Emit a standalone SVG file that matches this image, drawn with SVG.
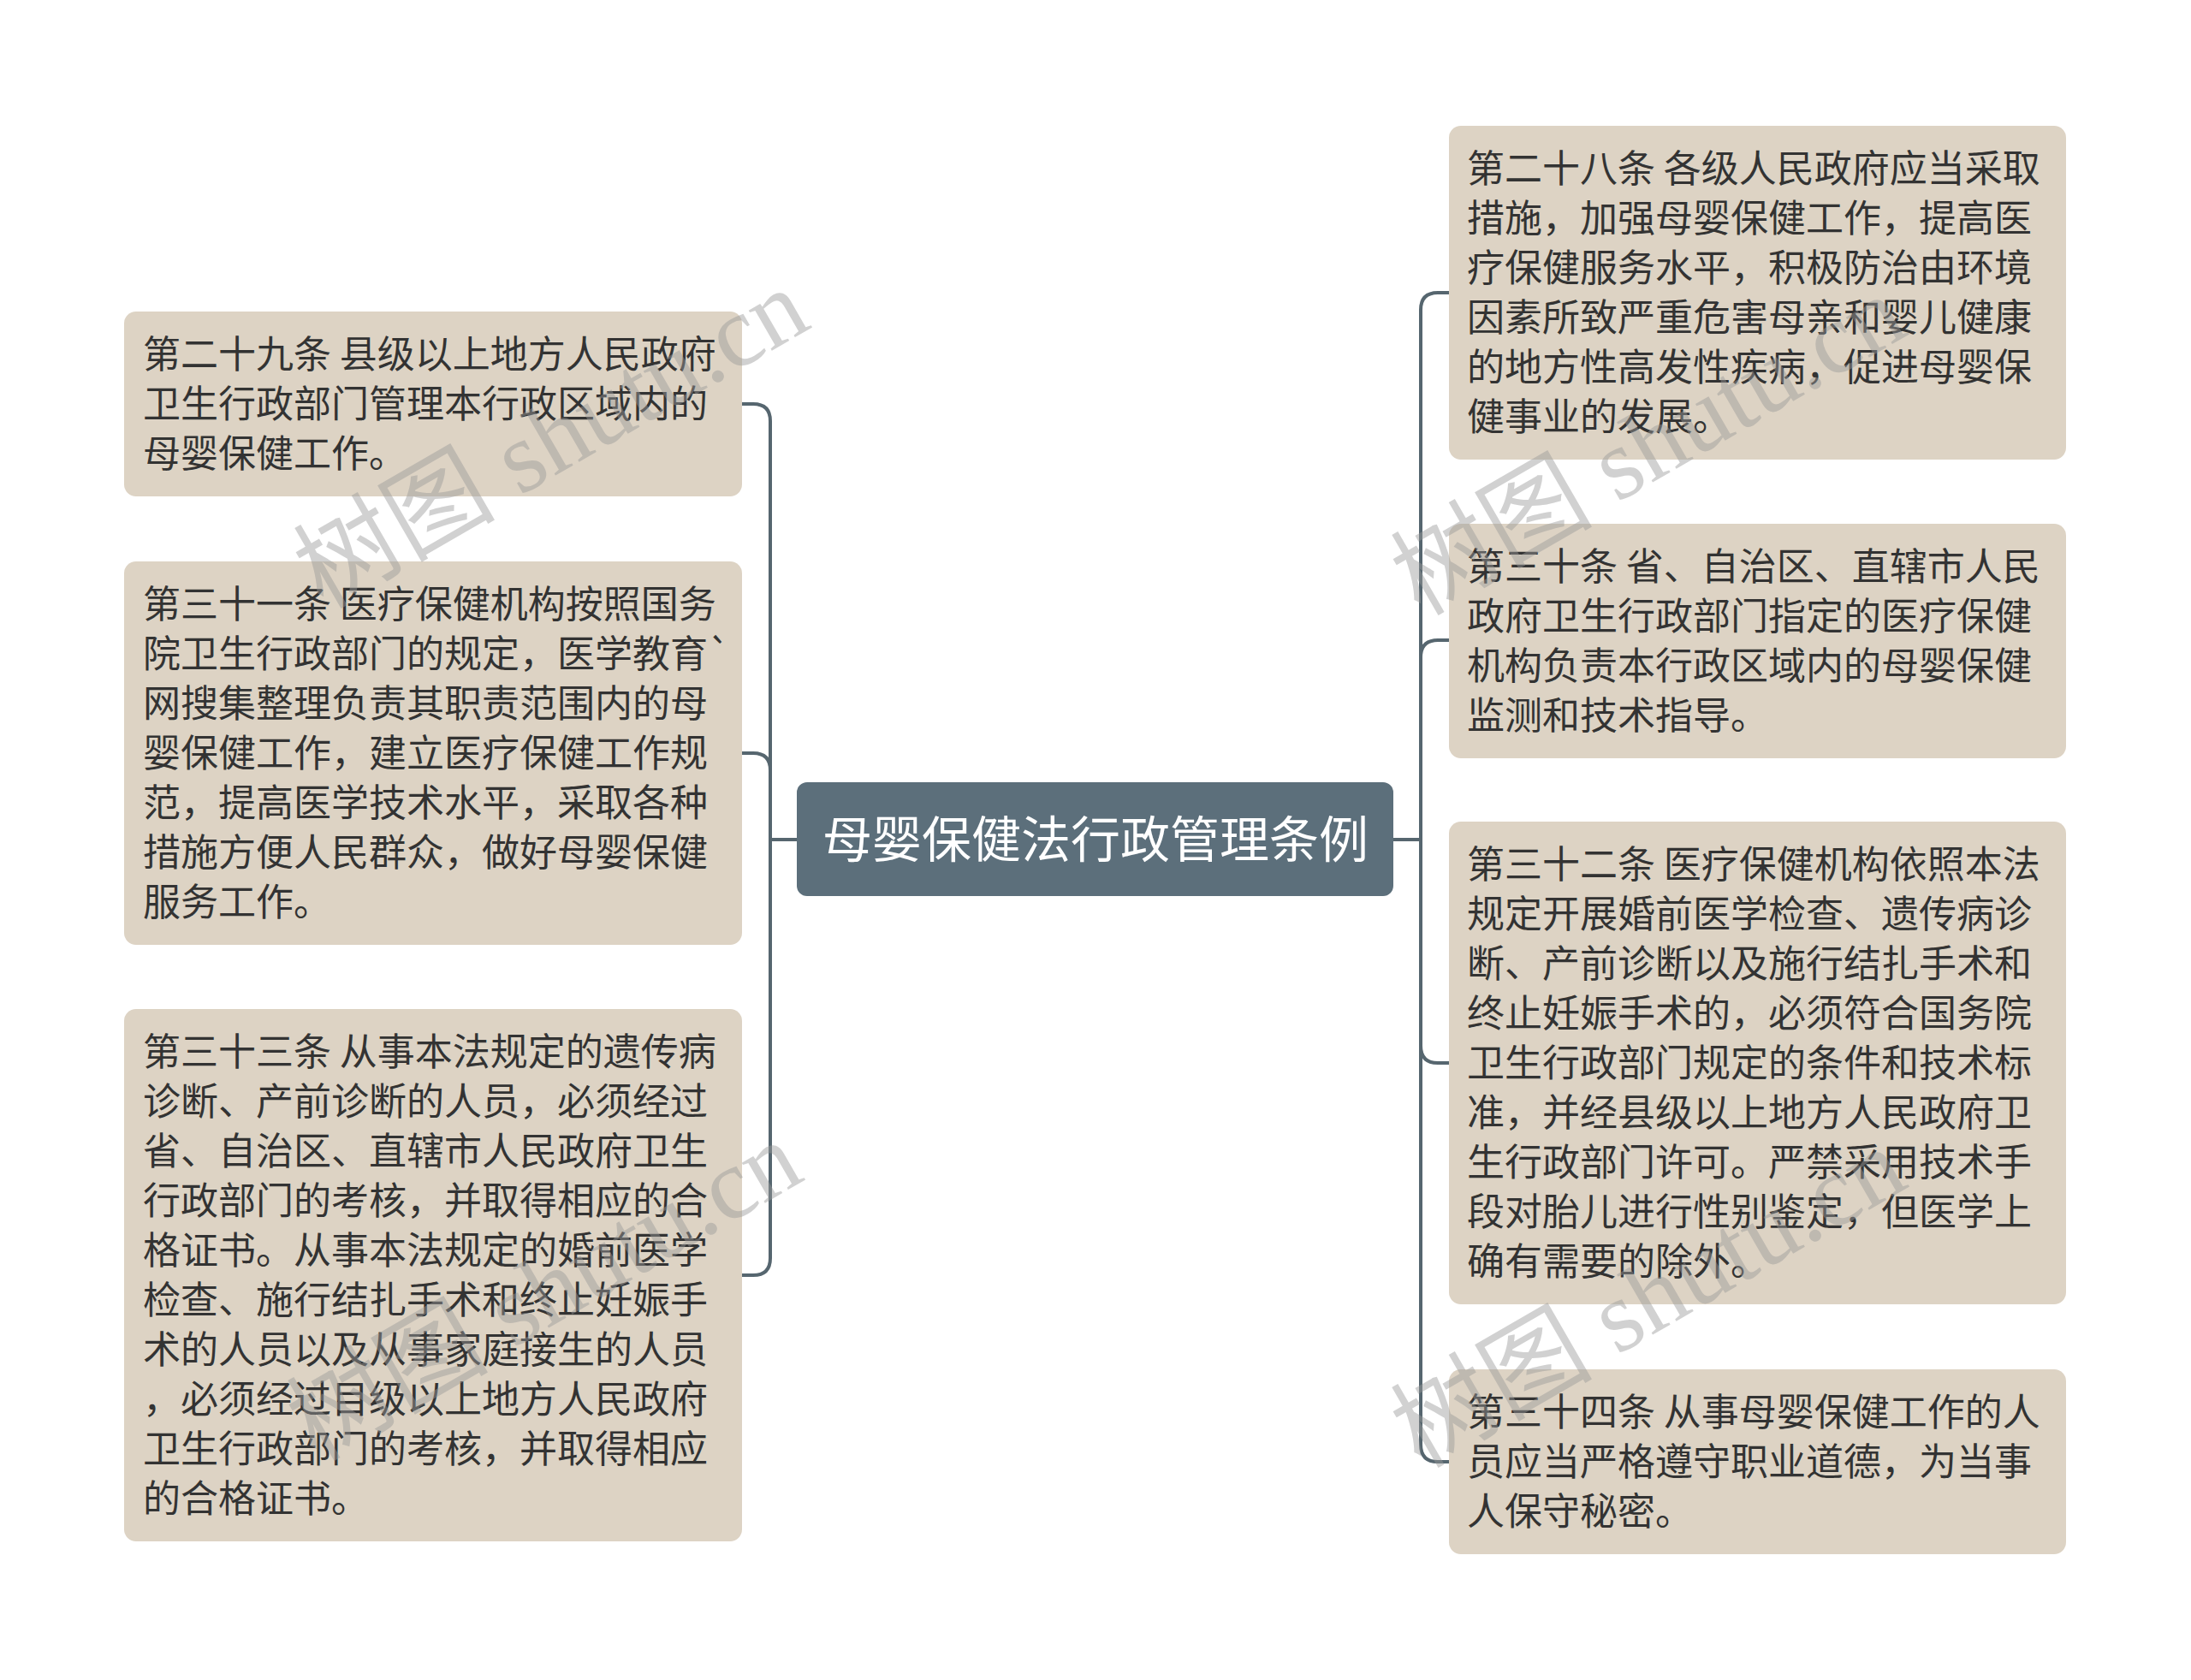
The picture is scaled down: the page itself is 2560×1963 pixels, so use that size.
<svg xmlns="http://www.w3.org/2000/svg" width="2560" height="1963" viewBox="0 0 2560 1963">
<style>
.bg{fill:#ffffff}
.box{fill:#ddd3c4}
.root{fill:#5c6f7b}
.t{font-family:"Noto Sans CJK SC","Noto Sans",sans-serif;font-size:44px;fill:#333333}
.rt{font-family:"Noto Sans CJK SC","Noto Sans",sans-serif;font-size:58px;fill:#ffffff}
.ln{fill:none;stroke:#56666f;stroke-width:4;stroke-linecap:round}
.wm{font-family:"Liberation Serif","Noto Sans CJK SC",serif;font-size:118px;fill:#9a9a9a;opacity:0.45}
</style>
<rect class="bg" x="0" y="0" width="2560" height="1963"/>
<g id="connectors">
<path class="ln" d="M931,981 H900 V492 Q900,472 880,472 H867"/>
<path class="ln" d="M931,981 H900 V900 Q900,880 880,880 H867"/>
<path class="ln" d="M931,981 H900 V1470 Q900,1490 880,1490 H867"/>
<path class="ln" d="M1628,981 H1660 V362 Q1660,342 1680,342 H1693"/>
<path class="ln" d="M1628,981 H1660 V768 Q1660,748 1680,748 H1693"/>
<path class="ln" d="M1628,981 H1660 V1222 Q1660,1242 1680,1242 H1693"/>
<path class="ln" d="M1628,981 H1660 V1688 Q1660,1708 1680,1708 H1693"/>
</g>
<g id="root">
<rect class="root" x="931" y="914" width="697" height="133" rx="12"/>
<text class="rt" x="1280" y="1002" text-anchor="middle">母婴保健法行政管理条例</text>
</g>
<g id="node-29">
<rect class="box" x="145" y="364" width="722" height="216" rx="14"/>
<text class="t" x="167" y="430"><tspan x="167">第二十九条 县级以上地方人民政府</tspan><tspan x="167" dy="58">卫生行政部门管理本行政区域内的</tspan><tspan x="167" dy="58">母婴保健工作。</tspan></text>
</g>
<g id="node-31">
<rect class="box" x="145" y="656" width="722" height="448" rx="14"/>
<text class="t" x="167" y="722"><tspan x="167">第三十一条 医疗保健机构按照国务</tspan><tspan x="167" dy="58">院卫生行政部门的规定，医学教育`</tspan><tspan x="167" dy="58">网搜集整理负责其职责范围内的母</tspan><tspan x="167" dy="58">婴保健工作，建立医疗保健工作规</tspan><tspan x="167" dy="58">范，提高医学技术水平，采取各种</tspan><tspan x="167" dy="58">措施方便人民群众，做好母婴保健</tspan><tspan x="167" dy="58">服务工作。</tspan></text>
</g>
<g id="node-33">
<rect class="box" x="145" y="1179" width="722" height="622" rx="14"/>
<text class="t" x="167" y="1245"><tspan x="167">第三十三条 从事本法规定的遗传病</tspan><tspan x="167" dy="58">诊断、产前诊断的人员，必须经过</tspan><tspan x="167" dy="58">省、自治区、直辖市人民政府卫生</tspan><tspan x="167" dy="58">行政部门的考核，并取得相应的合</tspan><tspan x="167" dy="58">格证书。从事本法规定的婚前医学</tspan><tspan x="167" dy="58">检查、施行结扎手术和终止妊娠手</tspan><tspan x="167" dy="58">术的人员以及从事家庭接生的人员</tspan><tspan x="167" dy="58">，必须经过目级以上地方人民政府</tspan><tspan x="167" dy="58">卫生行政部门的考核，并取得相应</tspan><tspan x="167" dy="58">的合格证书。</tspan></text>
</g>
<g id="node-28">
<rect class="box" x="1693" y="147" width="721" height="390" rx="14"/>
<text class="t" x="1714" y="213"><tspan x="1714">第二十八条 各级人民政府应当采取</tspan><tspan x="1714" dy="58">措施，加强母婴保健工作，提高医</tspan><tspan x="1714" dy="58">疗保健服务水平，积极防治由环境</tspan><tspan x="1714" dy="58">因素所致严重危害母亲和婴儿健康</tspan><tspan x="1714" dy="58">的地方性高发性疾病，促进母婴保</tspan><tspan x="1714" dy="58">健事业的发展。</tspan></text>
</g>
<g id="node-30">
<rect class="box" x="1693" y="612" width="721" height="274" rx="14"/>
<text class="t" x="1714" y="678"><tspan x="1714">第三十条 省、自治区、直辖市人民</tspan><tspan x="1714" dy="58">政府卫生行政部门指定的医疗保健</tspan><tspan x="1714" dy="58">机构负责本行政区域内的母婴保健</tspan><tspan x="1714" dy="58">监测和技术指导。</tspan></text>
</g>
<g id="node-32">
<rect class="box" x="1693" y="960" width="721" height="564" rx="14"/>
<text class="t" x="1714" y="1026"><tspan x="1714">第三十二条 医疗保健机构依照本法</tspan><tspan x="1714" dy="58">规定开展婚前医学检查、遗传病诊</tspan><tspan x="1714" dy="58">断、产前诊断以及施行结扎手术和</tspan><tspan x="1714" dy="58">终止妊娠手术的，必须符合国务院</tspan><tspan x="1714" dy="58">卫生行政部门规定的条件和技术标</tspan><tspan x="1714" dy="58">准，并经县级以上地方人民政府卫</tspan><tspan x="1714" dy="58">生行政部门许可。严禁采用技术手</tspan><tspan x="1714" dy="58">段对胎儿进行性别鉴定，但医学上</tspan><tspan x="1714" dy="58">确有需要的除外。</tspan></text>
</g>
<g id="node-34">
<rect class="box" x="1693" y="1600" width="721" height="216" rx="14"/>
<text class="t" x="1714" y="1666"><tspan x="1714">第三十四条 从事母婴保健工作的人</tspan><tspan x="1714" dy="58">员应当严格遵守职业道德，为当事</tspan><tspan x="1714" dy="58">人保守秘密。</tspan></text>
</g>
<g id="watermarks">
<text class="wm" x="645" y="552" text-anchor="middle" transform="rotate(-30 645 514)">树图 shutu.cn</text>
<text class="wm" x="637" y="1548" text-anchor="middle" transform="rotate(-30 637 1510)">树图 shutu.cn</text>
<text class="wm" x="1927" y="560" text-anchor="middle" transform="rotate(-30 1927 522)">树图 shutu.cn</text>
<text class="wm" x="1927" y="1556" text-anchor="middle" transform="rotate(-30 1927 1518)">树图 shutu.cn</text>
</g>
</svg>
